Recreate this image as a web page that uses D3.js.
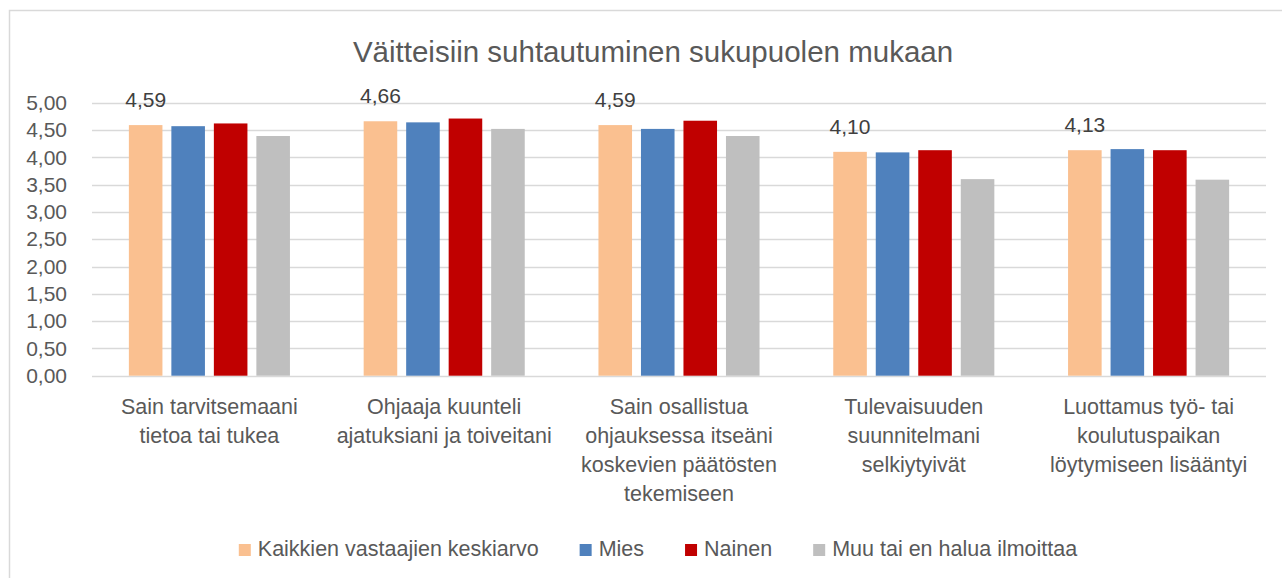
<!DOCTYPE html>
<html>
<head>
<meta charset="utf-8">
<script src="https://cdn.jsdelivr.net/npm/d3@7"></script>
<style>
  html, body { margin: 0; padding: 0; background: #fff; }
  svg { display: block; }
  text { font-family: "Liberation Sans Narrow", "Liberation Sans", "DejaVu Sans Condensed", sans-serif; }
</style>
</head>
<body>
<svg id="chart" width="1282" height="578"></svg>
<script>
const title = "Väitteisiin suhtautuminen sukupuolen mukaan";
const categories = [
  ["Sain tarvitsemaani", "tietoa tai tukea"],
  ["Ohjaaja kuunteli", "ajatuksiani ja toiveitani"],
  ["Sain osallistua", "ohjauksessa itseäni", "koskevien päätösten", "tekemiseen"],
  ["Tulevaisuuden", "suunnitelmani", "selkiytyivät"],
  ["Luottamus työ- tai", "koulutuspaikan", "löytymiseen lisääntyi"]
];
const seriesNames = ["Kaikkien vastaajien keskiarvo", "Mies", "Nainen", "Muu tai en halua ilmoittaa"];
const kaikki = [4.59, 4.66, 4.59, 4.10, 4.13];
const mies = [4.57, 4.64, 4.52, 4.09, 4.15];
const nainen = [4.62, 4.71, 4.67, 4.13, 4.13];
const muu = [4.39, 4.52, 4.39, 3.60, 3.59];
const yTicks = [0, 0.5, 1, 1.5, 2, 2.5, 3, 3.5, 4, 4.5, 5];
const colors = ["#FAC090", "#4F81BD", "#C00000", "#BFBFBF"];

const seriesValues = [kaikki, mies, nainen, muu];
const labeledSeries = 0;

const svg = d3.select("#chart");
const fmt = v => d3.format(".2f")(v).replace(".", ",");

// chart frame
svg.append("rect")
  .attr("x", 9.5).attr("y", 10.5)
  .attr("width", 1300).attr("height", 600)
  .attr("fill", "#fff").attr("stroke", "#d9d9d9").attr("stroke-width", 1.5);

const plot = { left: 92, right: 1266, top: 102.7, bottom: 375.7 };

const y = d3.scaleLinear().domain([0, 5]).range([plot.bottom, plot.top]);
const catIdx = d3.range(categories.length);
const x0 = d3.scaleBand().domain(catIdx).range([plot.left, plot.right]).paddingInner(0.314).paddingOuter(0.157);
const x1 = d3.scaleBand().domain(d3.range(seriesNames.length)).range([0, x0.bandwidth()]).paddingInner(0.21).paddingOuter(0);

// gridlines
svg.append("g").selectAll("line").data(yTicks).join("line")
  .attr("x1", plot.left).attr("x2", plot.right)
  .attr("y1", d => Math.round(y(d)) + 0.5).attr("y2", d => Math.round(y(d)) + 0.5)
  .attr("stroke", "#d9d9d9").attr("stroke-width", 1.3);

// y axis labels
const yAxis = d3.axisLeft(y).tickValues(yTicks).tickFormat(fmt).tickSize(0).tickPadding(0);
const ya = svg.append("g").attr("transform", `translate(${67},0)`).call(yAxis);
ya.select(".domain").remove();
ya.selectAll("text").attr("fill", "#595959").style("font-size", "21px")
  .style("font-family", '"Liberation Sans Narrow", "Liberation Sans", sans-serif');

// bars
const groups = svg.append("g").selectAll("g").data(catIdx).join("g")
  .attr("transform", i => `translate(${x0(i)},0)`);
groups.selectAll("rect")
  .data(i => seriesValues.map((s, k) => ({ k, v: s[i] })))
  .join("rect")
  .attr("x", d => x1(d.k))
  .attr("width", x1.bandwidth())
  .attr("y", d => y(d.v))
  .attr("height", d => y(0) - y(d.v))
  .attr("fill", d => colors[d.k]);

// data labels (first series)
svg.append("g").selectAll("text").data(catIdx).join("text")
  .attr("x", i => x0(i) + x1(labeledSeries) + x1.bandwidth() / 2)
  .attr("y", i => y(seriesValues[labeledSeries][i]) - 18)
  .attr("text-anchor", "middle")
  .attr("fill", "#404040")
  .style("font-size", "21px")
  .text(i => fmt(seriesValues[labeledSeries][i]));

// category labels
const cat = svg.append("g").selectAll("text").data(catIdx).join("text")
  .attr("text-anchor", "middle")
  .attr("fill", "#595959")
  .style("font-size", "21.5px")
  .attr("x", i => x0(i) + x0.bandwidth() / 2)
  .attr("y", 414);
cat.selectAll("tspan").data(i => categories[i]).join("tspan")
  .attr("x", function () { return d3.select(this.parentNode).attr("x"); })
  .attr("dy", (d, j) => j === 0 ? 0 : 29)
  .text(d => d);

// title
svg.append("text")
  .attr("x", 653).attr("y", 62)
  .attr("text-anchor", "middle")
  .attr("fill", "#595959")
  .style("font-size", "29.5px")
  .text(title);

// legend
const legend = svg.append("g");
const items = legend.selectAll("g").data(seriesNames).join("g");
items.append("rect").attr("width", 12).attr("height", 12).attr("y", -12)
  .attr("fill", (d, k) => colors[k]);
items.append("text").attr("x", 19).attr("y", 0).attr("fill", "#595959")
  .style("font-size", "21.5px").text(d => d);
let cx = 0;
const positions = [];
items.each(function (d) {
  const w = 19 + d3.select(this).select("text").node().getComputedTextLength();
  positions.push(cx);
  cx += w + 41;
});
const totalW = cx - 41;
const startX = 658 - totalW / 2;
items.attr("transform", (d, k) => `translate(${startX + positions[k]},556)`);
</script>
</body>
</html>
